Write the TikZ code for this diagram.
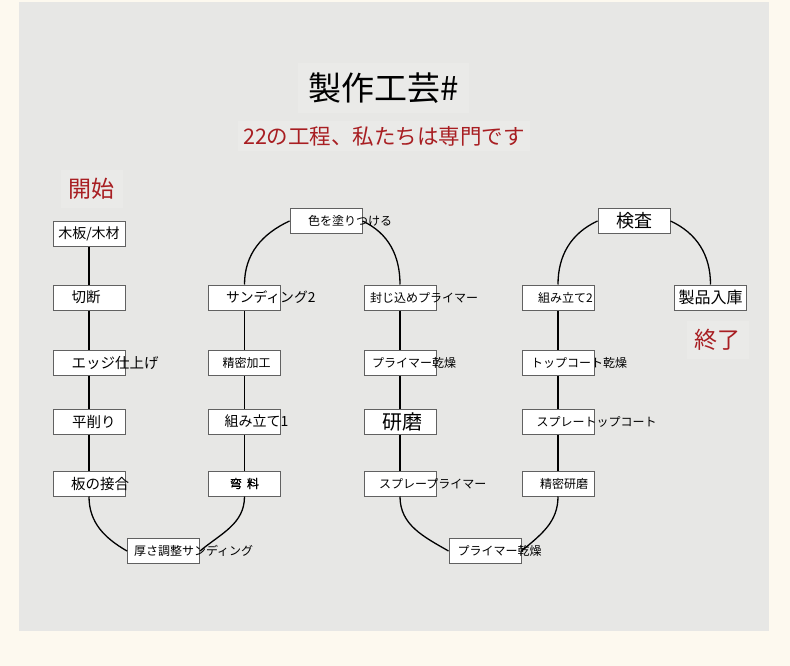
\documentclass[tikz,border=0pt]{standalone}
\usepackage{fontspec}
\setmainfont{Noto Sans CJK JP}
\newfontfamily\boldjp[FakeBold=1.2]{Noto Sans CJK JP}
\usetikzlibrary{positioning}

\definecolor{paper}{HTML}{FDF9EF}
\definecolor{panel}{HTML}{E7E7E5}
\definecolor{patch}{HTML}{EAEAE8}
\definecolor{headred}{HTML}{A81E22}

\newcommand{\fs}[1]{\fontsize{#1pt}{#1pt}\selectfont}
\newcommand{\boxtext}[2]{\makebox[72pt][l]{\hspace*{#1pt}#2}}

\begin{document}
\begin{tikzpicture}[
    x=1pt, y=1pt,
    node distance=36pt and 83pt,
    stepbox/.style={rectangle, draw=black!62, fill=white, line width=1pt, minimum width=72pt, minimum height=25pt, inner sep=0pt, font=\fs{12}},
    bigstep/.style={stepbox, font=\fs{14.5}},
    headtext/.style={fill=patch, inner sep=8pt},
    redtext/.style={headtext, text=headred, font=\fs{23}},
    link/.style={draw=black, line width=1.3pt}
]

% === background ===
\fill[paper] (0,0) rectangle (790,-666);
\fill[panel] (19,-2) rectangle (769,-631);

% === headings ===
\node[headtext, font=\fs{33}, inner sep=10pt] (title) at (383.5,-88) {製作工芸\#};
\node[headtext, text=headred, font=\fs{21.5}, inner sep=5pt] (subtitle) at (384,-136) {22の工程、私たちは専門です};
\node[redtext] (start) at (91.5,-189) {開始};
\node[redtext] (finish) at (717.5,-340) {終了};

% === column 1 ===
\node[stepbox, font=\fs{14}] (wood) at (89,-233.5) {木板/木材};
\node[bigstep, below=38pt of wood] (cut) {\boxtext{18.5}{切断}};
\node[bigstep, below=39pt of cut] (edge) {\boxtext{18.5}{エッジ仕上げ}};
\node[bigstep, below=33pt of edge] (plane) {\boxtext{19}{平削り}};
\node[bigstep, below=36pt of plane] (joint) {\boxtext{18}{板の接合}};

\node[stepbox] (thick) at (163.5,-551) {\boxtext{6.5}{厚さ調整サンディング}};

% === column 2 ===
\node[stepbox, font=\fs{13.8}, right=82.5pt of cut] (sand2) {\boxtext{17.5}{サンディング2}};
\node[stepbox, below=39pt of sand2] (finework) {\boxtext{14}{精密加工}};
\node[stepbox, font=\fs{14}, below=33pt of finework] (assm1) {\boxtext{16}{組み立て1}};
\node[stepbox, font=\boldjp\fs{12}, below=36pt of assm1] (bend) {弯\hspace{5pt}料};

\node[stepbox] (color) at (326,-221) {\boxtext{18}{色を塗りつける}};

% === column 3 ===
\node[stepbox, right=82.5pt of sand2] (seal) {\boxtext{6}{封じ込めプライマー}};
\node[stepbox, below=39pt of seal] (pdry) {\boxtext{8}{プライマー乾燥}};
\node[stepbox, font=\fs{20}, below=33pt of pdry] (polish) {\boxtext{18}{研磨}};
\node[stepbox, below=36pt of polish] (spray) {\boxtext{15}{スプレープライマー}};

\node[stepbox] (pdry2) at (485,-551) {\boxtext{8.5}{プライマー乾燥}};

% === column 4 ===
\node[stepbox, right=85pt of seal] (assm2) {\boxtext{16}{組み立て2}};
\node[stepbox, below=39pt of assm2] (topdry) {\boxtext{9}{トップコート乾燥}};
\node[stepbox, below=33pt of topdry] (spraytop) {\boxtext{14.5}{スプレートップコート}};
\node[stepbox, below=36pt of spraytop] (fpolish) {\boxtext{18}{精密研磨}};

\node[stepbox, font=\fs{18}] (inspect) at (634,-221) {検査};
\node[stepbox, font=\fs{16}, right=79.5pt of assm2] (stock) {製品入庫};

% === connectors ===
\draw[link] (wood) -- (cut) -- (edge) -- (plane) -- (joint);
\draw[link] (joint.south) to[out=-90, in=150] (thick.west);
\draw[link] (thick.east) to[out=40, in=-90] (bend.south);
\draw[link] (bend) -- (assm1) -- (finework) -- (sand2);
\draw[link] (sand2.north) to[out=90, in=205] (color.west);
\draw[link] (color.east) to[out=-25, in=90] (seal.north);
\draw[link] (seal) -- (pdry) -- (polish) -- (spray);
\draw[link] (spray.south) to[out=-90, in=150] (pdry2.west);
\draw[link] (pdry2.east) to[out=40, in=-90] (fpolish.south);
\draw[link] (fpolish) -- (spraytop) -- (topdry) -- (assm2);
\draw[link] (assm2.north) to[out=90, in=205] (inspect.west);
\draw[link] (inspect.east) to[out=-25, in=90] (stock.north);

\end{tikzpicture}
\end{document}
